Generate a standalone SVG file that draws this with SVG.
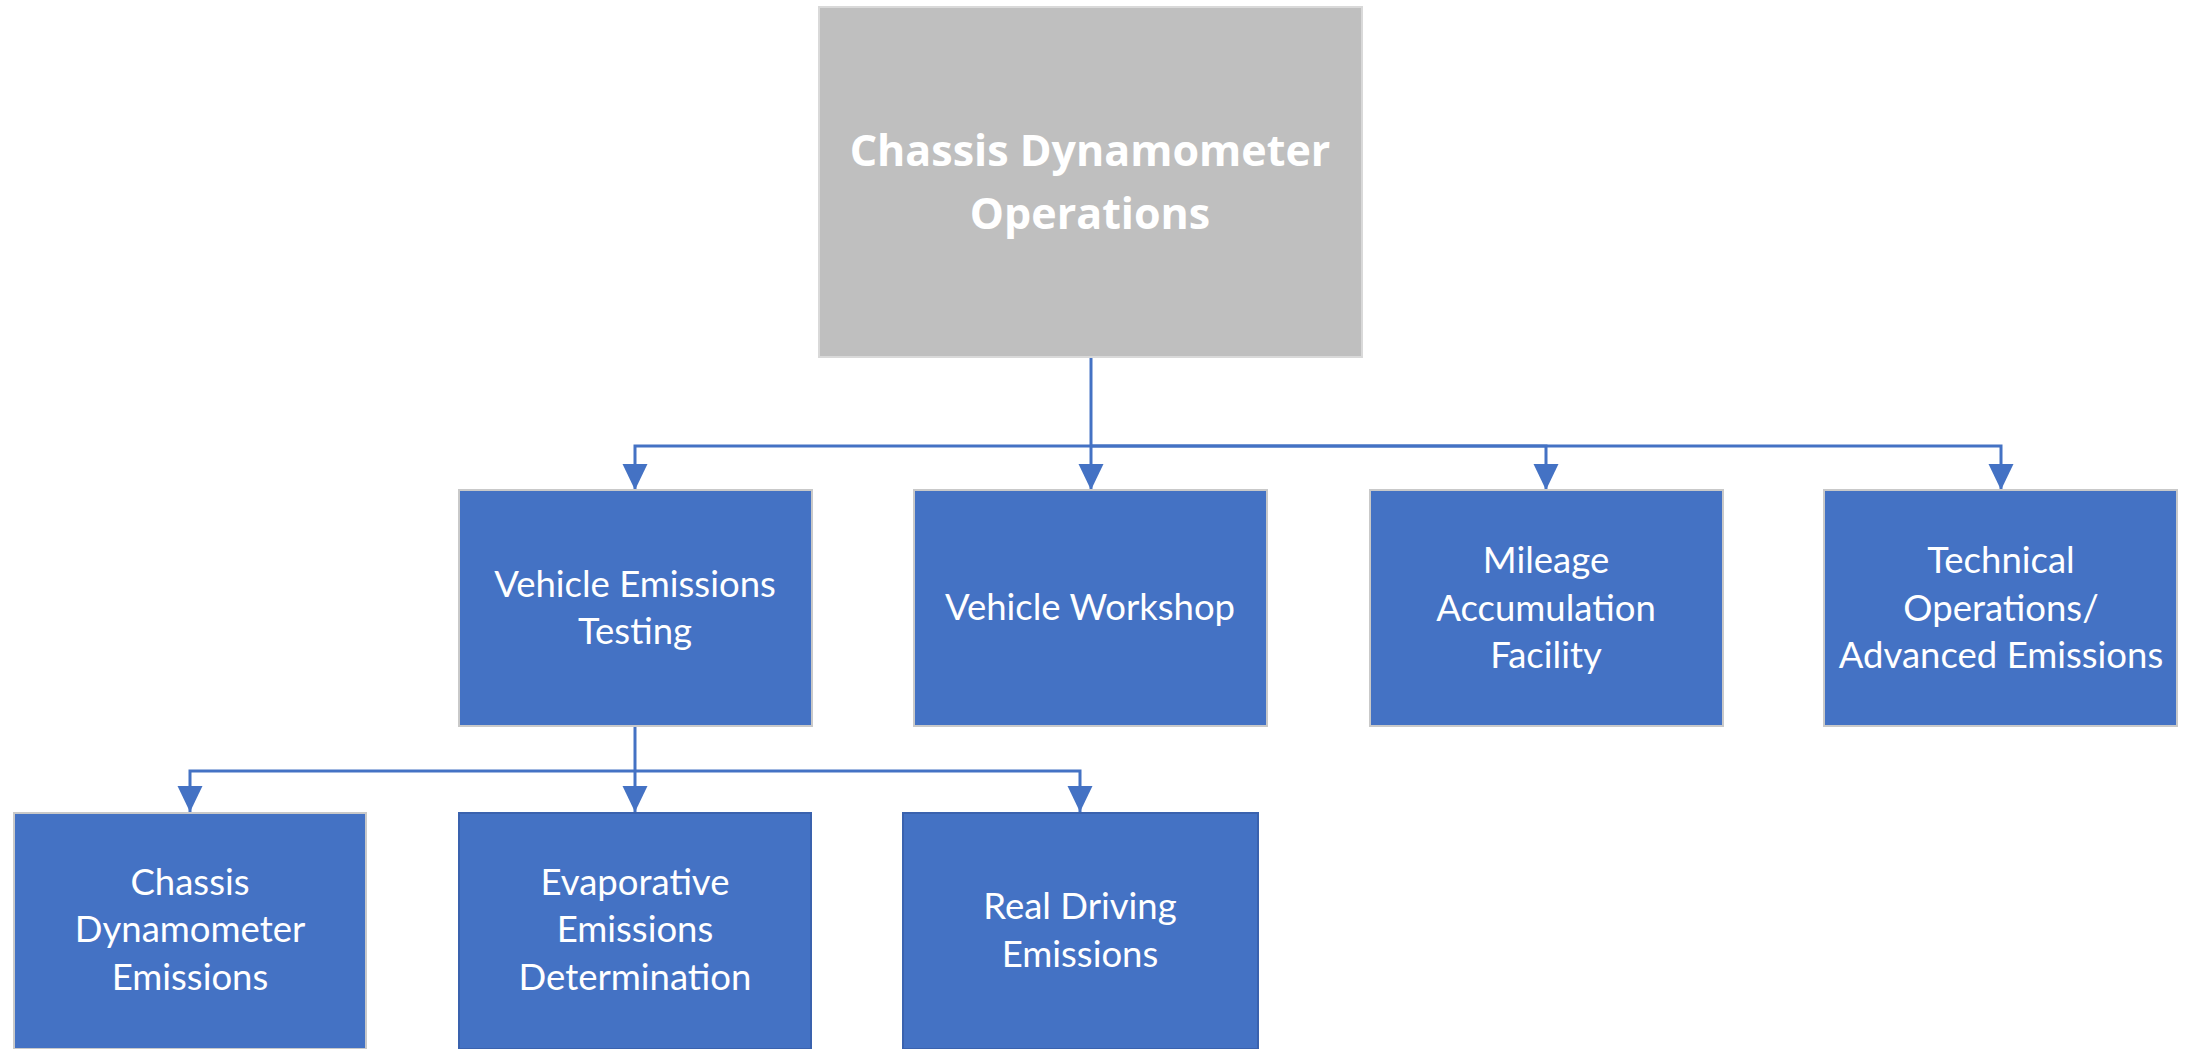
<svg xmlns="http://www.w3.org/2000/svg" width="2185" height="1049" viewBox="0 0 2185 1049">
<defs>
<marker id="arr" markerUnits="userSpaceOnUse" markerWidth="26" markerHeight="26" viewBox="0 0 25 24" refX="25" refY="12" orient="auto">
<path d="M0,0 L25,12 L0,24 z" fill="#4472C4"/>
</marker>
</defs>
<style>
.root{fill:#BFBFBF;stroke:#D9D9D9;stroke-width:2}
.box{fill:#4472C4;stroke:#C9C9C9;stroke-width:2}
.box2{fill:#4472C4;stroke:#3A62AE;stroke-width:2}
.t{fill:#FFFFFF;font-family:Lato,"Liberation Sans",sans-serif;font-size:36.5px;text-anchor:middle}
.tr{fill:#FFFFFF;font-family:"Open Sans","Liberation Sans",sans-serif;font-weight:bold;font-size:43px;text-anchor:middle}
.c{fill:none;stroke:#4472C4;stroke-width:3}
</style>
<rect width="2185" height="1049" fill="#FFFFFF"/>
<g id="connectors">
<path class="c" d="M1091,357 V490" marker-end="url(#arr)"/>
<path class="c" d="M1091,446 H635 V490" marker-end="url(#arr)"/>
<path class="c" d="M1091,446 H1546 V490" marker-end="url(#arr)"/>
<path class="c" d="M1091,446 H2001 V490" marker-end="url(#arr)"/>
<path class="c" d="M635,726 V812" marker-end="url(#arr)"/>
<path class="c" d="M635,771 H190 V812" marker-end="url(#arr)"/>
<path class="c" d="M635,771 H1080 V812" marker-end="url(#arr)"/>
</g>
<g id="node-root">
<rect class="root" x="819" y="7" width="543" height="350"/>
<text class="tr" x="1090" y="166">Chassis Dynamometer</text>
<text class="tr" x="1090" y="229">Operations</text>
</g>
<g id="node-vehicle-emissions-testing">
<rect class="box" x="459" y="490" width="353" height="236"/>
<text class="t" x="635" y="597">Vehicle Emissions</text>
<text class="t" x="635" y="644">Testing</text>
</g>
<g id="node-vehicle-workshop">
<rect class="box" x="914" y="490" width="353" height="236"/>
<text class="t" x="1090" y="620">Vehicle Workshop</text>
</g>
<g id="node-mileage">
<rect class="box" x="1370" y="490" width="353" height="236"/>
<text class="t" x="1546" y="573">Mileage</text>
<text class="t" x="1546" y="621">Accumulation</text>
<text class="t" x="1546" y="668">Facility</text>
</g>
<g id="node-technical">
<rect class="box" x="1824" y="490" width="353" height="236"/>
<text class="t" x="2001" y="573">Technical</text>
<text class="t" x="2001" y="621">Operations/</text>
<text class="t" x="2001" y="668">Advanced Emissions</text>
</g>
<g id="node-chassis-dyno-emissions">
<rect class="box" x="14" y="813" width="352" height="236"/>
<text class="t" x="190" y="895">Chassis</text>
<text class="t" x="190" y="942">Dynamometer</text>
<text class="t" x="190" y="990">Emissions</text>
</g>
<g id="node-evaporative">
<rect class="box2" x="459" y="813" width="352" height="236"/>
<text class="t" x="635" y="895">Evaporative</text>
<text class="t" x="635" y="942">Emissions</text>
<text class="t" x="635" y="990">Determination</text>
</g>
<g id="node-real-driving">
<rect class="box2" x="903" y="813" width="355" height="236"/>
<text class="t" x="1080" y="919">Real Driving</text>
<text class="t" x="1080" y="967">Emissions</text>
</g>
</svg>
